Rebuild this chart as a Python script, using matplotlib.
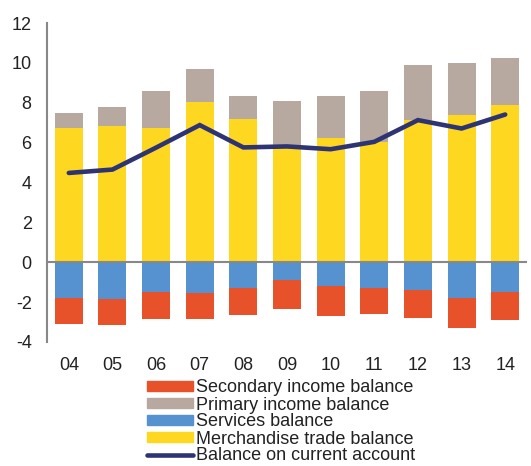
import matplotlib
matplotlib.use("Agg")
import matplotlib.pyplot as plt
import numpy as np
from matplotlib.patches import Patch
from matplotlib.lines import Line2D

plt.rcParams['font.family'] = ['Liberation Sans', 'DejaVu Sans']

years = ["04", "05", "06", "07", "08", "09", "10", "11", "12", "13", "14"]
merchandise = [6.73, 6.81, 6.73, 8.03, 7.19, 5.86, 6.24, 6.02, 7.14, 7.38, 7.88]
primary = [0.77, 0.97, 1.84, 1.66, 1.16, 2.22, 2.08, 2.58, 2.73, 2.59, 2.36]
services = [-1.77, -1.82, -1.51, -1.52, -1.29, -0.90, -1.17, -1.29, -1.37, -1.77, -1.49]
secondary = [-1.31, -1.34, -1.33, -1.34, -1.35, -1.43, -1.52, -1.29, -1.41, -1.53, -1.41]
current = [4.48, 4.65, 5.75, 6.88, 5.76, 5.81, 5.67, 6.04, 7.13, 6.71, 7.41]
yticks = [-4, -2, 0, 2, 4, 6, 8, 10, 12]

c_red = "#E8522A"
c_grey = "#B8A9A0"
c_blue = "#5592CF"
c_yellow = "#FDD720"
c_navy = "#2E3473"

fig = plt.figure(figsize=(5.31, 4.66), dpi=100)
ax = fig.add_axes([0.0885, 0.2661, 0.904, 0.6845])

x = np.arange(len(years))
w = 0.64
ax.bar(x, merchandise, w, color=c_yellow, zorder=2)
ax.bar(x, primary, w, bottom=merchandise, color=c_grey, zorder=2)
ax.bar(x, services, w, color=c_blue, zorder=2)
ax.bar(x, secondary, w, bottom=services, color=c_red, zorder=2)
ax.plot(x, current, color=c_navy, lw=3.3, solid_capstyle='round', solid_joinstyle='miter', zorder=4)

ax.axhline(0, color="#888888", lw=1.5, zorder=3)
ax.set_xlim(-0.5, 10.5)
ax.set_ylim(-4, 12)
ax.set_yticks(yticks)
ax.set_yticklabels([str(v) for v in yticks])
ax.set_xticks(x)
ax.set_xticklabels(years)
ax.tick_params(length=0, labelsize=13, colors="#222222")
ax.tick_params(axis='x', pad=11)
ax.tick_params(axis='y', pad=11)
for s in ['top', 'right', 'bottom']:
    ax.spines[s].set_visible(False)
ax.spines['left'].set_color("#888888")
ax.spines['left'].set_linewidth(1.5)

handles = [
    Patch(color=c_red),
    Patch(color=c_grey),
    Patch(color=c_blue),
    Patch(color=c_yellow),
    Line2D([0], [0], color=c_navy, lw=3.3, solid_capstyle='round'),
]
labels = ["Secondary income balance", "Primary income balance", "Services balance",
          "Merchandise trade balance", "Balance on current account"]
leg = fig.legend(handles, labels, loc='upper left', bbox_to_anchor=(147 / 531, 1 - 379.5 / 466),
                 frameon=False, fontsize=13, handlelength=2.55, handleheight=0.45,
                 handletextpad=0.15, labelspacing=0.0, borderpad=0, borderaxespad=0)
for t in leg.get_texts():
    t.set_color("#222222")

fig.savefig("out.png", dpi=100)
